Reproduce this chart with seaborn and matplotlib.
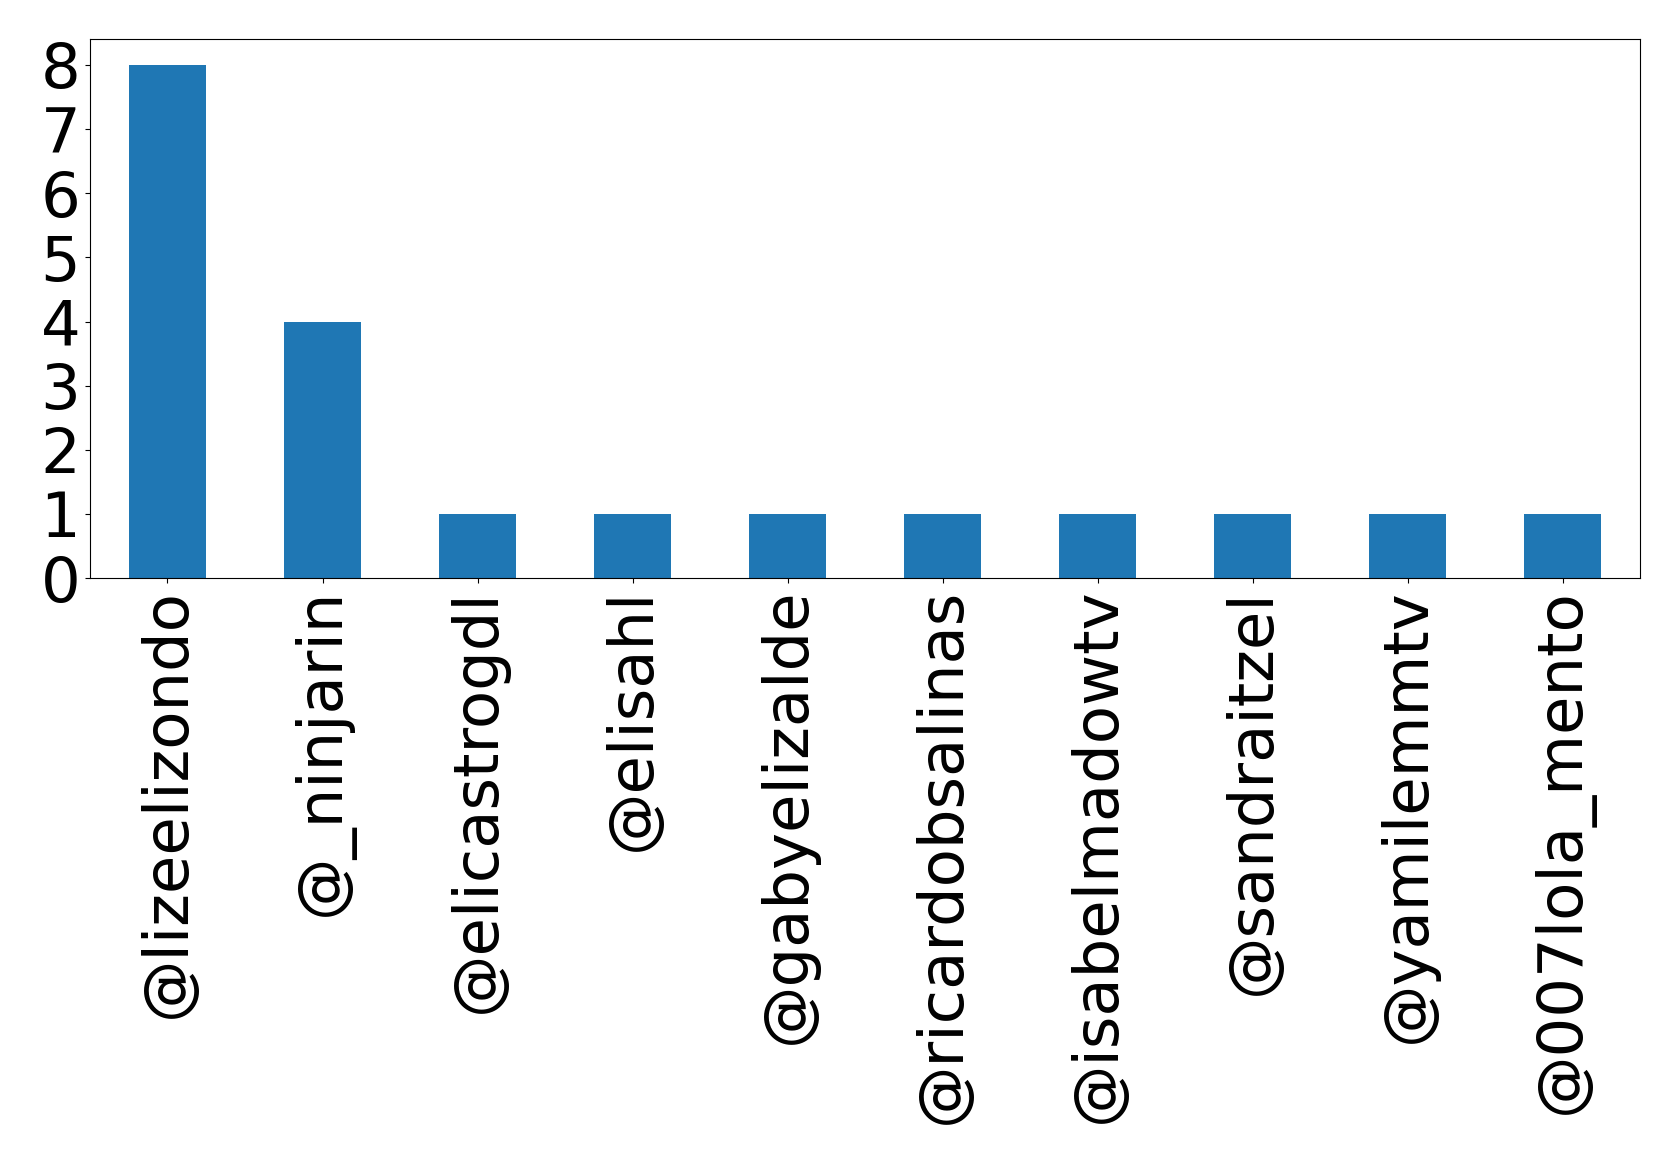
import matplotlib
matplotlib.use("Agg")
import matplotlib.pyplot as plt
import seaborn as sns
import pandas as pd

# mention counts per account
accounts = [
    "@lizeelizondo", "@_ninjarin", "@elicastrogdl", "@elisahl", "@gabyelizalde",
    "@ricardobsalinas", "@isabelmadowtv", "@sandraitzel", "@yamilemmtv", "@007lola_mento",
]
counts = [8, 4, 1, 1, 1, 1, 1, 1, 1, 1]
yticks = [0, 1, 2, 3, 4, 5, 6, 7, 8]

df = pd.DataFrame({"account": accounts, "count": counts})

fig, ax = plt.subplots(figsize=(16.79, 11.64), dpi=100)
sns.barplot(data=df, x="account", y="count", color="#1f77b4",
            saturation=1, width=0.5, ax=ax)
ax.set_xlim(-0.5, len(accounts) - 0.5)
ax.set_ylim(0, 8.4)
ax.set_yticks(yticks)
ax.set_xlabel("")
ax.set_ylabel("")
ax.tick_params(axis="both", labelsize=45)
plt.setp(ax.get_xticklabels(), rotation=90)
plt.subplots_adjust(left=0.0536, right=0.9768, top=0.9662, bottom=0.5034)
plt.savefig("out.png")
